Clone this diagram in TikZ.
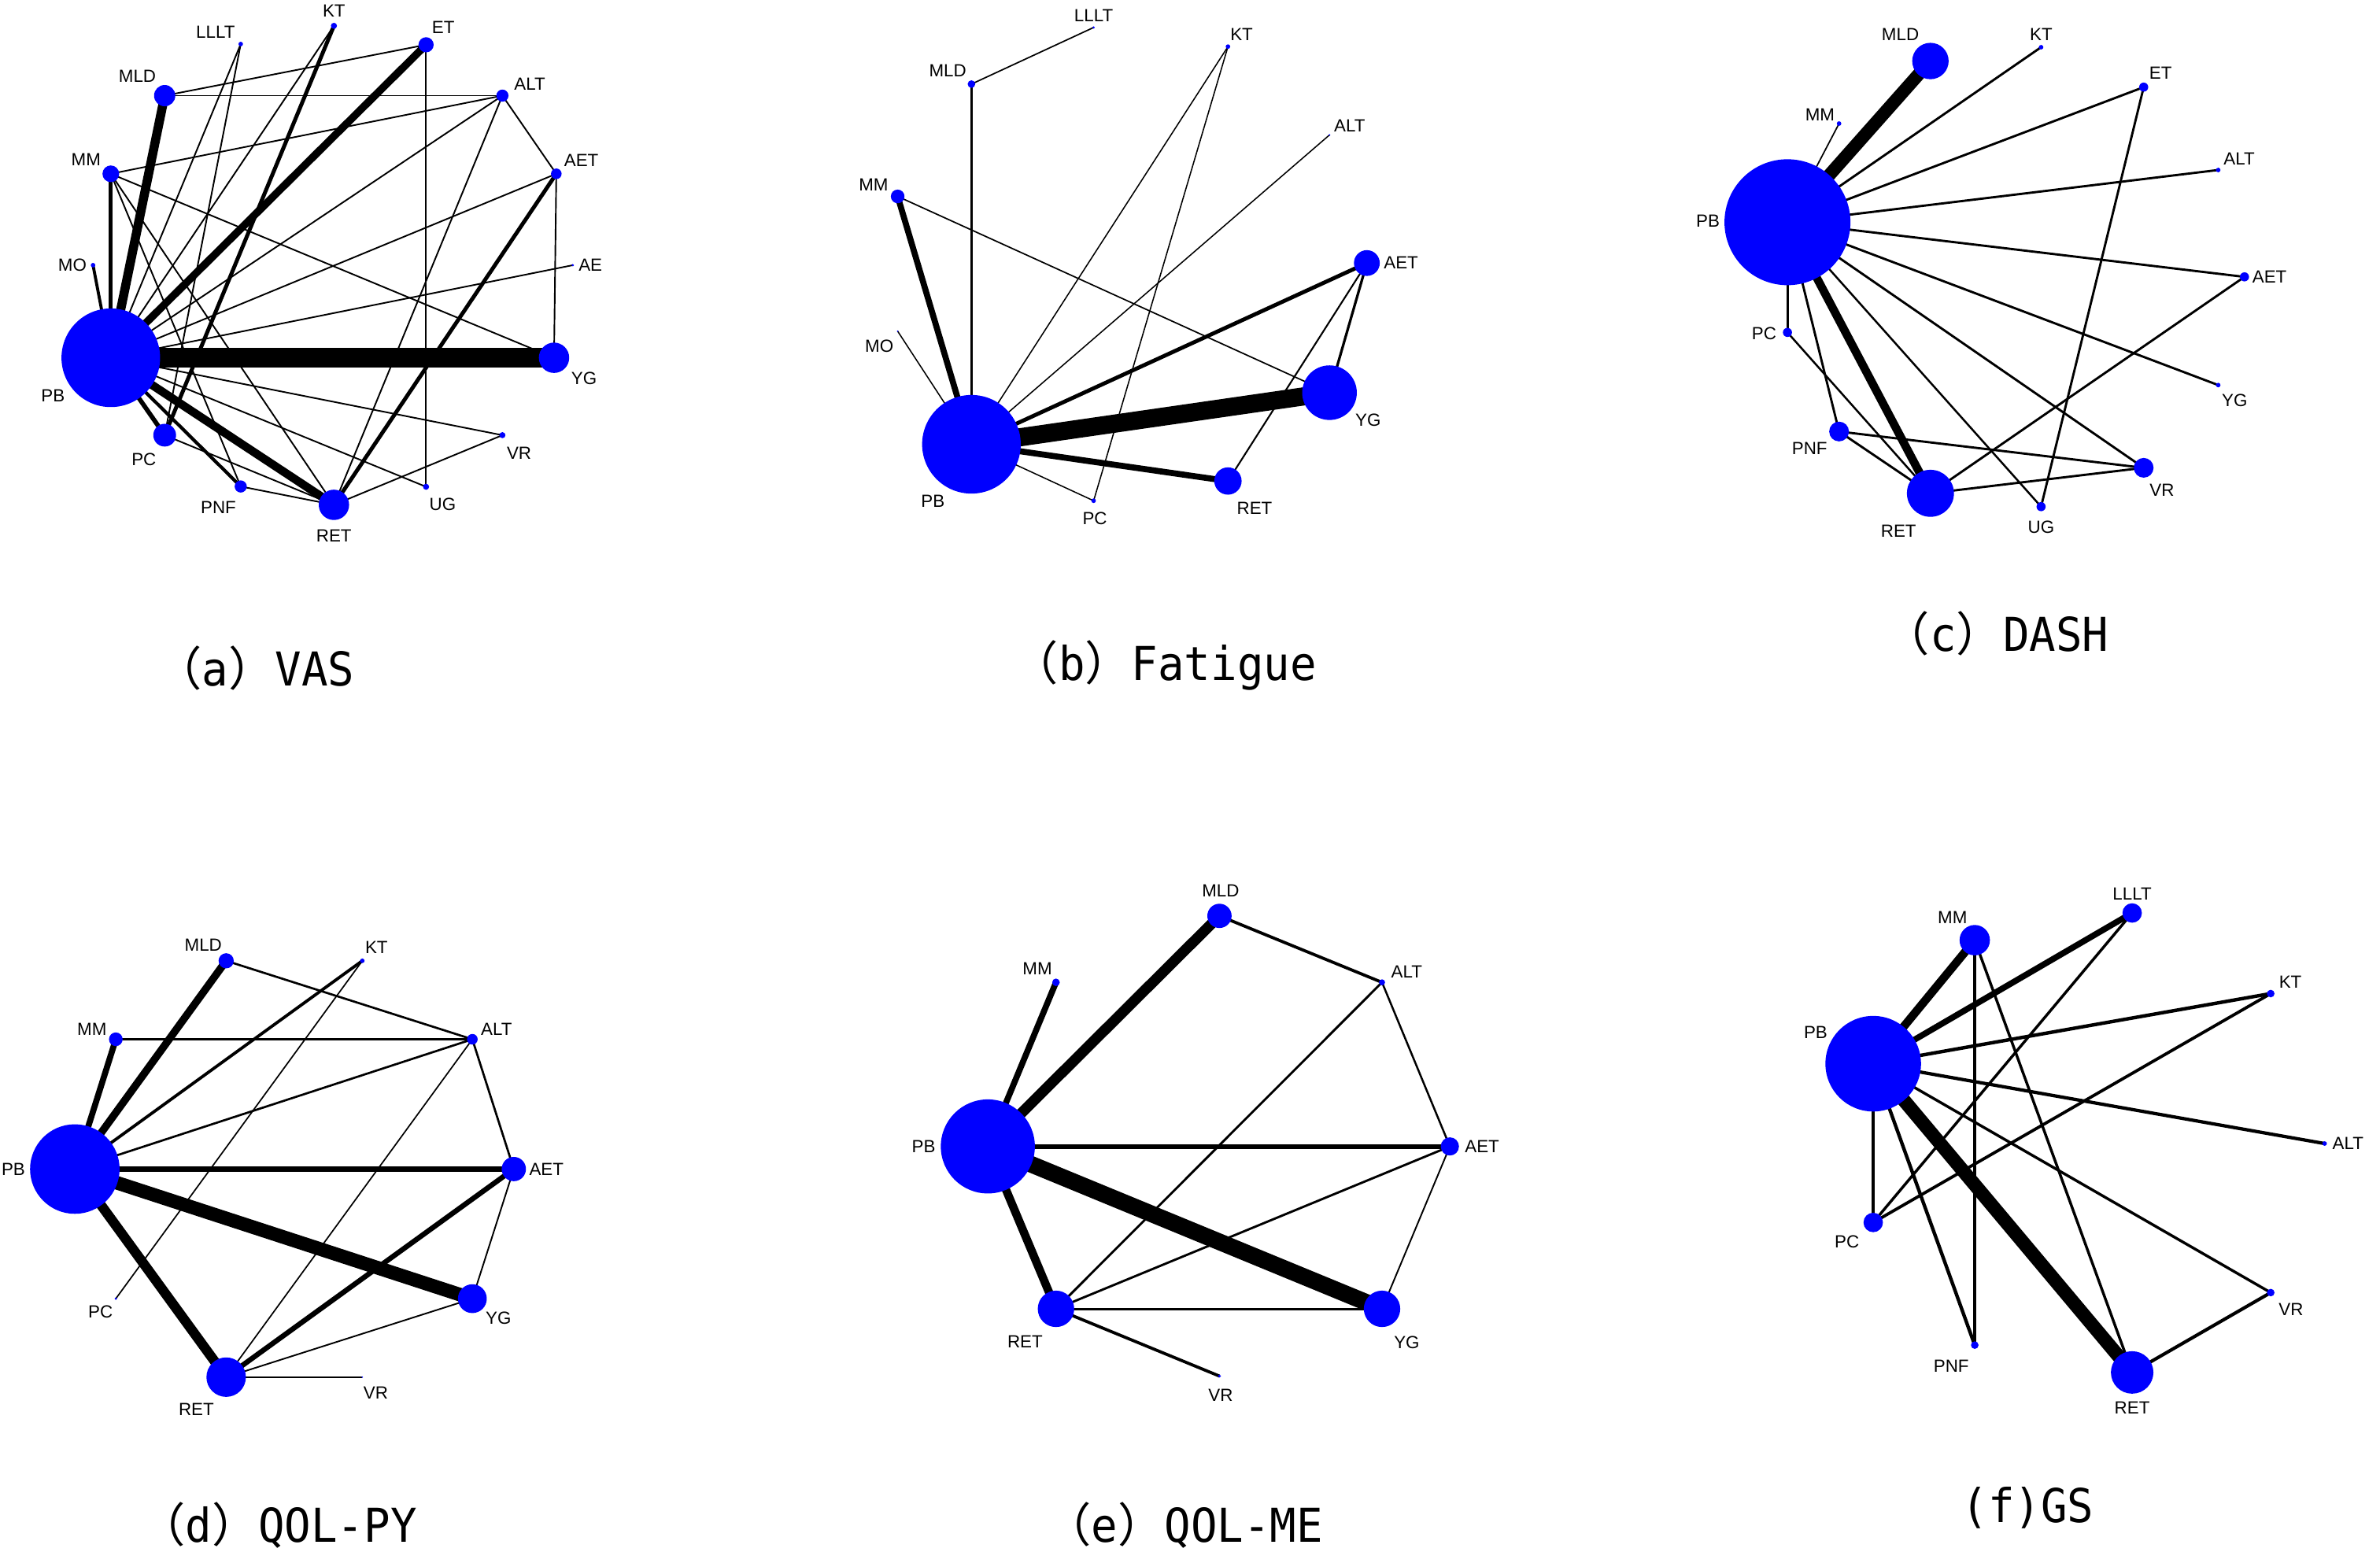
\documentclass[tikz,border=0pt]{standalone}
\usepackage{fontspec}
\setmainfont{Liberation Sans}
\newfontfamily\capfont[FakeStretch=0.94]{DejaVu Sans Mono}
\newfontfamily\cjkfont{Noto Sans CJK SC}
\usetikzlibrary{backgrounds}
\definecolor{nblue}{RGB}{0,0,255}
\newcommand\fwl{{\cjkfont （}}
\newcommand\fwr{{\cjkfont ）}}
\pgfdeclarelayer{backzero}
\pgfsetlayers{backzero,background,main}
\begin{document}
\begin{tikzpicture}[x=0.02cm,y=-0.02cm,
  ndot/.style={circle,fill=nblue,inner sep=0pt,minimum size=#1*0.04cm},
  nlab/.style={font=\fontsize{6.6}{7}\selectfont,inner sep=0pt},
  lw/.style={line width=#1*0.567pt},
  captext/.style={font=\capfont\fontsize{17.5}{20}\selectfont,anchor=base,inner sep=0pt}]
\begin{pgfonlayer}{backzero}
\fill[white] (0,0) rectangle (1568,1022);
\end{pgfonlayer}
\useasboundingbox (0,0) rectangle (1568,1022);

% ---------------- (a) VAS ----------------
\foreach \n/\x/\y/\r in {KT/220/17/2, LLLT/158.6/29/1.5, ET/280.7/29.5/5, MLD/108.5/63/7,
  ALT/331/63/4, MM/73/114.5/5.5, AET/366.5/114.5/3.5, MO/61.3/174.7/1.5, AE/377.4/174.7/0.8,
  PB/73/235.7/32.5, YG/365/235.7/10, PC/108.5/286.7/7.5, VR/331/286.7/2, PNF/158.6/320.5/4,
  UG/280.7/320.7/2, RET/220/332.6/10}
  \node[ndot=\r] (a-\n) at (\x,\y) {};
\foreach \n/\x/\y in {KT/220/7, LLLT/142/21, ET/292/18, MLD/90.5/50, ALT/349/55.5, MM/56.7/105.3,
  AET/383/105.8, MO/47.7/174.7, AE/389/174.7, PB/34.9/260.8, YG/384.8/249.3, PC/94.8/302.7,
  VR/342/298.6, PNF/143.9/334.5, UG/291.6/332, RET/220/353}
  \node[nlab] (a-\n-l) at (\x,\y) {\n};
\begin{pgfonlayer}{background}
\foreach \u/\v/\w in {PB/MO/2, PB/MM/2.5, PB/MLD/6, PB/ET/5, PB/YG/13, PB/RET/5.5, PB/PC/3,
  PB/PNF/2.2, PB/LLLT/1, PB/KT/1, PB/ALT/1, PB/AET/1, PB/AE/1, PB/VR/1, PB/UG/1,
  KT/PC/2.6, LLLT/PC/1, MLD/ET/1, MLD/ALT/1, MM/ALT/1, MM/YG/1, MM/RET/1,
  MM/PNF/1, ET/UG/1, ALT/AET/1, ALT/RET/1, AET/YG/1, AET/RET/2.6, VR/RET/1,
  PC/RET/1, PNF/RET/1}
  \draw[lw=\w] (a-\u.center) -- (a-\v.center);
\end{pgfonlayer}
\node[captext] (cap-a) at (168,452) {\fwl a\fwr VAS};

% ---------------- (b) Fatigue ----------------
\foreach \n/\x/\y/\r in {LLLT/720.5/18.1/0.8, KT/809/30.7/1.5, MLD/640/55.4/2.5, ALT/875.9/88.9/0.6,
  MM/591.4/129.4/4.5, AET/900.5/173.3/8.5, MO/591.4/218.2/0.5, YG/875.9/258.7/18,
  PB/640/292.7/32.5, RET/809/316.9/9, PC/720.5/329.9/1.5}
  \node[ndot=\r] (b-\n) at (\x,\y) {};
\foreach \n/\x/\y in {LLLT/720.5/10.5, KT/818/22.8, MLD/624.4/46.5, ALT/889.2/82.6, MM/575.5/121.5,
  AET/923/173.3, MO/579.3/228, YG/901.3/276.9, PB/614.6/330.4, RET/826.5/334.6, PC/721.3/341.5}
  \node[nlab] (b-\n-l) at (\x,\y) {\n};
\begin{pgfonlayer}{background}
\foreach \u/\v/\w in {MLD/LLLT/0.9, MLD/PB/1.6, MM/PB/4, MM/YG/0.9, MO/PB/0.8, KT/PB/0.8,
  KT/PC/0.8, ALT/PB/0.8, AET/PB/2.6, PB/YG/12, PB/RET/4, PB/PC/0.8, AET/YG/1.7, AET/RET/1.1}
  \draw[lw=\w] (b-\u.center) -- (b-\v.center);
\end{pgfonlayer}
\node[captext] (cap-b) at (767,448) {\fwl b\fwr Fatigue};

% ---------------- (c) DASH ----------------
\foreach \n/\x/\y/\r in {MLD/1271.8/40.2/12, KT/1344.7/31.1/1.5, MM/1211.6/81.4/1.5,
  ET/1412.3/57.4/3, ALT/1461.4/112/1.5, PB/1177.6/146.4/41.5, AET/1478.7/182.4/3,
  PC/1177.6/219/3, YG/1461.4/253.7/1.5, PNF/1211.6/284.3/6.5, VR/1412.3/308.2/6.5,
  RET/1271.8/325/15.5, UG/1344.7/333.8/3}
  \node[ndot=\r] (c-\n) at (\x,\y) {};
\foreach \n/\x/\y in {MLD/1252/22.7, KT/1344.7/22.7, MM/1199/75.4, ET/1423.4/47.9, ALT/1475.2/104.8,
  PB/1125.2/145.5, AET/1495.2/182.4, PC/1162.2/219.7, YG/1472.2/263.7, PNF/1192.2/295.5,
  VR/1424.3/323, RET/1250.8/349.8, UG/1344.7/347.5}
  \node[nlab] (c-\n-l) at (\x,\y) {\n};
\begin{pgfonlayer}{background}
\foreach \u/\v/\w in {PB/MLD/8.5, PB/MM/0.9, PB/KT/1.5, PB/ET/1.5, PB/ALT/1.5, PB/AET/1.5,
  PB/YG/1.5, PB/PC/1.5, PB/PNF/1.5, PB/RET/5.5, PB/UG/1.3, PB/VR/1.5, PC/RET/1.3, PNF/RET/1.5,
  PNF/VR/1.5, RET/VR/1.5, RET/AET/1.5, ET/UG/1.5}
  \draw[lw=\w] (c-\u.center) -- (c-\v.center);
\end{pgfonlayer}
\node[captext] (cap-c) at (1315,429) {\fwl c\fwr DASH};

% ---------------- (d) QOL-PY ----------------
\foreach \n/\x/\y/\r in {MLD/149/633/5, KT/238.7/633/1.5, MM/76.3/684.7/4.5, ALT/311.2/684.7/3.5,
  PB/49.3/770.2/29.5, AET/338.5/770.2/8, PC/76.3/855.6/0.8, YG/311.2/855.6/9.5,
  RET/149/907.3/13, VR/238.7/907.3/0.5}
  \node[ndot=\r] (d-\n) at (\x,\y) {};
\foreach \n/\x/\y in {MLD/133.9/622.5, KT/248/624.2, MM/60.6/678.1, ALT/327.1/678.1, PB/8.8/770.2,
  AET/360/770.2, PC/66.2/864.2, YG/328.4/868.3, RET/129.3/928.8, VR/247.6/917.8}
  \node[nlab] (d-\n-l) at (\x,\y) {\n};
\begin{pgfonlayer}{background}
\foreach \u/\v/\w in {PB/MM/4, PB/MLD/5, PB/KT/2, PB/ALT/1.4, PB/AET/3.4, PB/YG/9, PB/RET/6.5,
  MLD/ALT/1.4, MM/ALT/1.1, KT/PC/0.9, ALT/AET/1.4, ALT/RET/0.9, AET/YG/1, AET/RET/3.4,
  YG/RET/1, RET/VR/1.2}
  \draw[lw=\w] (d-\u.center) -- (d-\v.center);
\end{pgfonlayer}
\node[captext] (cap-d) at (183,1016) {\fwl d\fwr QOL-PY};

% ---------------- (e) QOL-ME ----------------
\foreach \n/\x/\y/\r in {MLD/803.4/603.4/8, MM/695.7/647.2/2.5, ALT/910.5/647.2/2,
  PB/650.8/755.3/31, AET/955.2/755.3/6, RET/695.7/862.3/12, YG/910.5/862.3/12, VR/803.4/906.6/1}
  \node[ndot=\r] (e-\n) at (\x,\y) {};
\foreach \n/\x/\y in {MLD/804.2/587.1, MM/683.4/638.3, ALT/926.8/640.2, PB/608.5/755.3,
  AET/976.4/755.3, RET/675.3/884, YG/926.8/884.5, VR/804.2/919.3}
  \node[nlab] (e-\n-l) at (\x,\y) {\n};
\begin{pgfonlayer}{background}
\foreach \u/\v/\w in {PB/MM/4, PB/MLD/7, PB/AET/3.3, PB/YG/11, PB/RET/5.5, MLD/ALT/2,
  ALT/AET/1.3, ALT/RET/1.5, AET/RET/1.5, AET/YG/1, RET/YG/1.6, RET/VR/2}
  \draw[lw=\w] (e-\u.center) -- (e-\v.center);
\end{pgfonlayer}
\node[captext] (cap-e) at (780,1016) {\fwl e\fwr QOL-ME};

% ---------------- (f) GS ----------------
\foreach \n/\x/\y/\r in {LLLT/1404.7/601.5/6.4, MM/1301/619.4/10, KT/1496/654.6/2.5,
  PB/1234.1/700.8/31.5, ALT/1531.5/753.4/1.5, PC/1234.1/805.4/6.4, VR/1496/851.6/2.5,
  PNF/1301/886.2/2.5, RET/1404.7/904.2/14}
  \node[ndot=\r] (f-\n) at (\x,\y) {};
\foreach \n/\x/\y in {LLLT/1404.7/589, MM/1286.3/604.3, KT/1508.9/647, PB/1196.2/680,
  ALT/1546.9/753.4, PC/1216.8/818, VR/1509.4/862.8, PNF/1285.5/900.1, RET/1404.7/927.5}
  \node[nlab] (f-\n-l) at (\x,\y) {\n};
\begin{pgfonlayer}{background}
\foreach \u/\v/\w in {PB/MM/5.5, PB/LLLT/4, PB/KT/2.3, PB/ALT/2.2, PB/VR/1.8, PB/RET/9,
  PB/PC/2.2, PB/PNF/2.3, MM/PNF/1.8, MM/RET/1.8, LLLT/PC/1.8, KT/PC/2, VR/RET/2.2}
  \draw[lw=\w] (f-\u.center) -- (f-\v.center);
\end{pgfonlayer}
\node[captext] (cap-f) at (1336,1003) {(f)GS};
\end{tikzpicture}
\end{document}
